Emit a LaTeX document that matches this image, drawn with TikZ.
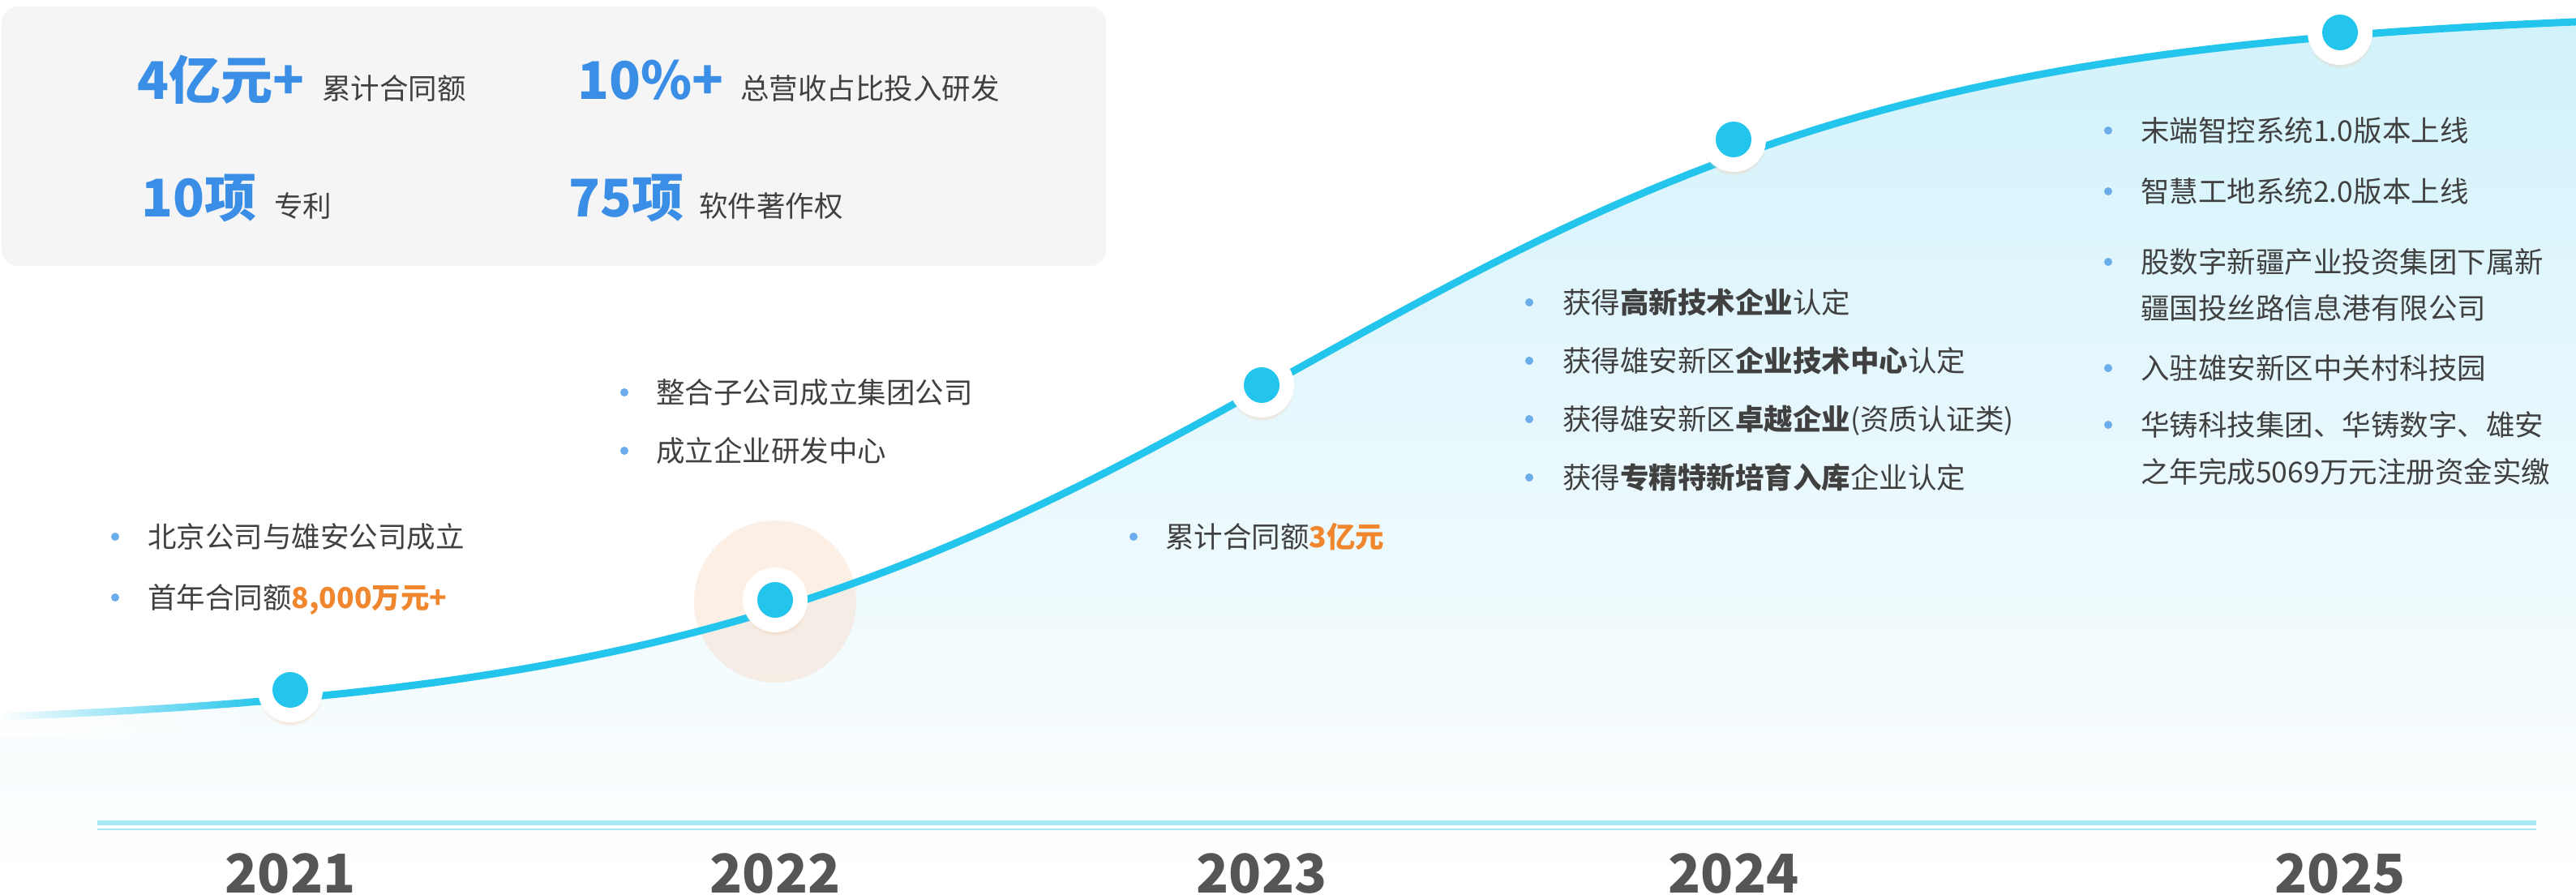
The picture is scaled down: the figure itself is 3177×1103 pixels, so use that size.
\documentclass[tikz,border=0pt]{standalone}
\usepackage{fontspec}
\setmainfont{Noto Sans CJK SC}
\usepackage{tikz}
\usetikzlibrary{shadows,fadings}
\definecolor{skyline}{HTML}{23C5EC}
\definecolor{txtgray}{HTML}{404040}
\definecolor{yeargray}{HTML}{555555}
\definecolor{bulblue}{HTML}{6AADEA}
\definecolor{numblue}{HTML}{3A8EE6}
\definecolor{hiorange}{HTML}{F0862E}
\definecolor{boxgray}{HTML}{F5F5F5}
\definecolor{barcyan}{HTML}{A8E8F6}
\definecolor{areatop}{HTML}{D2F2FB}
\definecolor{halo}{HTML}{F9DCC8}
\definecolor{glow}{HTML}{F4C7A6}
\tikzfading[name=fadeR, left color=transparent!0, right color=transparent!100]
\tikzset{tx/.style={anchor=base west,inner sep=0pt,text=txtgray,font=\fontsize{35.5bp}{42bp}\selectfont}}
\tikzset{bl/.style={circle,fill=bulblue,inner sep=0pt,minimum size=10bp}}
\tikzset{yr/.style={anchor=base,inner sep=0pt,text=yeargray,font=\fontsize{66bp}{70bp}\selectfont\bfseries}}
\tikzset{big/.style={anchor=base west,inner sep=0pt,text=numblue,font=\fontsize{64bp}{70bp}\selectfont\bfseries}}
\tikzset{dt/.style={circle,fill=white,inner sep=0pt,minimum size=80bp,circular drop shadow={shadow scale=1,shadow xshift=0bp,shadow yshift=-5bp,fill=glow,opacity=.45}}}
\newcommand{\hl}[1]{\textcolor{hiorange}{\bfseries #1}}
% logistic growth line, pixel units
\newcommand{\growthcurve}{plot[domain=0:3177,samples=120] (\x,{10+890/(1+exp((\x-1600)/400))})}

\begin{document}
\begin{tikzpicture}[x=1bp,y=-1bp]
\useasboundingbox (0,0) rectangle (3177,1103);
% area under the curve
\shade[top color=areatop,bottom color=white] \growthcurve -- (3177,1103) -- (0,1103) -- cycle;
% key figures
\fill[boxgray,rounded corners=20bp] (2,8) rectangle (1364,328);
\node[big] (na) at (169,122) {4亿元+};
\node[big] (nb) at (712,122) {10\%+};
\node[big] (nc) at (174,267) {10项};
\node[big] (nd) at (701,267) {75项};
\node[tx] (la) at (397,122) {累计合同额};
\node[tx] (lb) at (913,122) {总营收占比投入研发};
\node[tx] (lc) at (338,267) {专利};
\node[tx] (ld) at (862,267) {软件著作权};
% growth curve
\fill[halo,opacity=.45] (956,742) circle (100bp);
\draw[skyline,line width=9bp] \growthcurve;
\fill[white,path fading=fadeR] (-1,825) rectangle (330,910);
\node[dt] (d21) at (358,851) {}; \fill[skyline] (d21) circle (22bp);
\node[dt] (d22) at (956,740) {}; \fill[skyline] (d22) circle (22bp);
\node[dt] (d23) at (1556,475) {}; \fill[skyline] (d23) circle (22bp);
\node[dt] (d24) at (2138,172) {}; \fill[skyline] (d24) circle (22bp);
\node[dt] (d25) at (2886,40) {}; \fill[skyline] (d25) circle (22bp);
% 2021
\node[bl] (b211) at (142,662) {}; \node[tx] (t211) at (182,675) {北京公司与雄安公司成立};
\node[bl] (b212) at (142,737) {}; \node[tx] (t212) at (182,750) {首年合同额\hl{8,000万元+}};
% 2022
\node[bl] (b221) at (770,484) {}; \node[tx] (t221) at (809,497) {整合子公司成立集团公司};
\node[bl] (b222) at (770,556) {}; \node[tx] (t222) at (809,569) {成立企业研发中心};
% 2023
\node[bl] (b231) at (1398,662) {}; \node[tx] (t231) at (1437,675) {累计合同额\hl{3亿元}};
% 2024
\node[bl] (b241) at (1886,373) {}; \node[tx] (t241) at (1927,386) {获得{\bfseries 高新技术企业}认定};
\node[bl] (b242) at (1886,445) {}; \node[tx] (t242) at (1927,458) {获得雄安新区{\bfseries 企业技术中心}认定};
\node[bl] (b243) at (1886,517) {}; \node[tx] (t243) at (1927,530) {获得雄安新区{\bfseries 卓越企业}(资质认证类)};
\node[bl] (b244) at (1886,589) {}; \node[tx] (t244) at (1927,602) {获得{\bfseries 专精特新培育入库}企业认定};
% 2025
\node[bl] (b251) at (2600,161) {}; \node[tx] (t251) at (2640,174) {末端智控系统1.0版本上线};
\node[bl] (b252) at (2600,236) {}; \node[tx] (t252) at (2640,249) {智慧工地系统2.0版本上线};
\node[bl] (b253) at (2600,323) {}; \node[tx] (t253) at (2640,336) {股数字新疆产业投资集团下属新};
\node[tx] (t253b) at (2640,393) {疆国投丝路信息港有限公司};
\node[bl] (b254) at (2600,454) {}; \node[tx] (t254) at (2640,467) {入驻雄安新区中关村科技园};
\node[bl] (b255) at (2600,524) {}; \node[tx] (t255) at (2640,537) {华铸科技集团、华铸数字、雄安};
\node[tx] (t255b) at (2640,595) {之年完成5069万元注册资金实缴};
% year axis
\fill[barcyan] (120,1012) rectangle (3128,1018);
\fill[barcyan] (120,1022) rectangle (3128,1024);
\node[yr] (y21) at (358,1101) {2021};
\node[yr] (y22) at (956,1101) {2022};
\node[yr] (y23) at (1556,1101) {2023};
\node[yr] (y24) at (2138,1101) {2024};
\node[yr] (y25) at (2886,1101) {2025};
\end{tikzpicture}
\end{document}
